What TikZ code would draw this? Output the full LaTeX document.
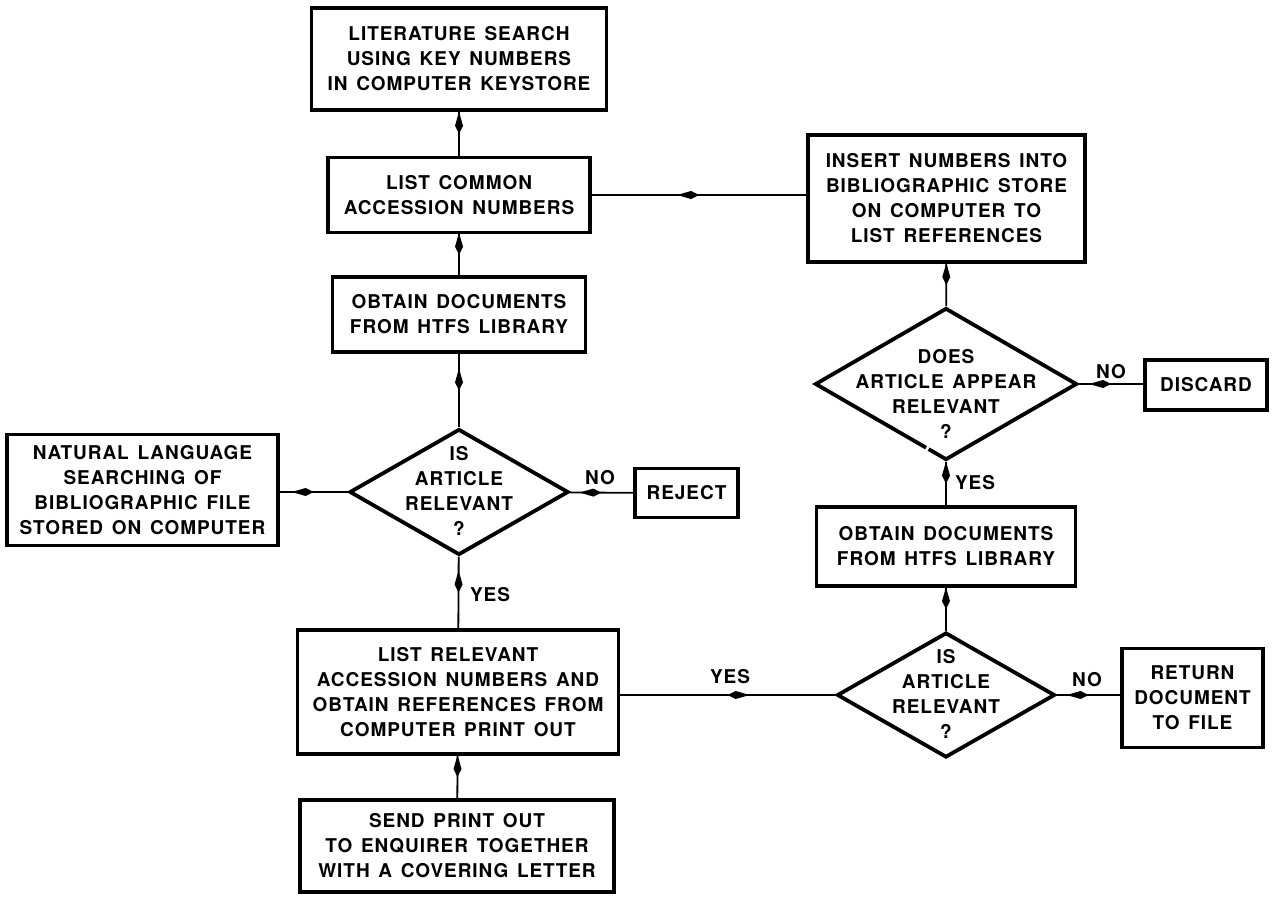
\documentclass[tikz,border=0pt]{standalone}
\usepackage{fontspec}
\setmainfont{TeX Gyre Heros}[LetterSpace=5,WordSpace=1.4]
\usetikzlibrary{shapes.geometric,decorations.markings,arrows.meta}
\newcommand\lettering{\fontsize{19}{25}\selectfont\bfseries}
\tikzset{
  box/.style={draw,line width=3.6pt,rectangle,inner sep=0pt,align=center,font=\lettering},
  dia/.style={draw,line width=3.8pt,diamond,inner sep=0pt},
  diatext/.style={align=center,font=\lettering,inner sep=0pt},
  lab/.style={font=\lettering,inner sep=0pt},
  flow/.style={line width=1.8pt,postaction={decorate},
    decoration={markings,mark=at position 0.5 with
      {\arrow{Kite[length=22pt,width=8pt,inset=14pt]}}}},
}
\begin{document}
\begin{tikzpicture}[x=1pt,y=-1pt]
\useasboundingbox (0,0) rectangle (1277,897);

% left column
\node[box,minimum width=295,minimum height=102] (b1) at (459,59)
  {LITERATURE SEARCH\\USING KEY NUMBERS\\IN COMPUTER KEYSTORE};
\node[box,minimum width=262,minimum height=75] (b2) at (459,195)
  {LIST COMMON\\ACCESSION NUMBERS};
\node[box,minimum width=253,minimum height=75] (b3) at (459,314.5)
  {OBTAIN DOCUMENTS\\FROM HTFS LIBRARY};
\node[dia,minimum width=219,minimum height=126] (d1) at (459,492) {};
\node[diatext] (d1t) at (459,491) {IS\\ARTICLE\\RELEVANT\\?};
\node[box,minimum width=271,minimum height=111] (nat) at (142.5,490)
  {NATURAL LANGUAGE\\SEARCHING OF\\BIBLIOGRAPHIC FILE\\STORED ON COMPUTER};
\node[box,minimum width=103,minimum height=49] (rej) at (686.5,493) {REJECT};
\node[box,minimum width=321,minimum height=124] (list) at (458,692)
  {LIST RELEVANT\\ACCESSION NUMBERS AND\\OBTAIN REFERENCES FROM\\COMPUTER PRINT OUT};
\node[box,minimum width=314,minimum height=92] (send) at (457,846)
  {SEND PRINT OUT\\TO ENQUIRER TOGETHER\\WITH A COVERING LETTER};

% right column
\node[box,minimum width=277,minimum height=127] (ins) at (946.5,198.5)
  {INSERT NUMBERS INTO\\BIBLIOGRAPHIC STORE\\ON COMPUTER TO\\LIST REFERENCES};
\node[dia,minimum width=262,minimum height=152] (d2) at (946,384) {};
\node[diatext] (d2t) at (946,394) {DOES\\ARTICLE APPEAR\\RELEVANT\\?};
\node[box,minimum width=122,minimum height=50] (disc) at (1206,385) {DISCARD};
\node[box,minimum width=259,minimum height=79] (ob2) at (946,546.5)
  {OBTAIN DOCUMENTS\\FROM HTFS LIBRARY};
\node[dia,minimum width=218,minimum height=125] (d3) at (946,695) {};
\node[diatext] (d3t) at (946,693.5) {IS\\ARTICLE\\RELEVANT\\?};
\node[box,minimum width=141,minimum height=99] (ret) at (1192.5,698)
  {RETURN\\DOCUMENT\\TO FILE};

% small break in the lower left edge of the second decision
\draw[white,line width=2.6pt] (924.5,453.3) -- (929.5,444.7);

% connectors
\draw[flow] (b1) -- (b2);
\draw[flow] (b2) -- (b3);
\draw[flow] (b3) -- (d1);
\draw[flow] (nat.east |- d1.west) -- (d1.west);
\draw[flow] (d1) -- (rej);
\draw[flow] (d1) -- (list);
\draw[flow] (list) -- (send);
\draw[flow] (b2.east) -- (ins.west |- b2.east);
\draw[flow] (ins) -- (d2);
\draw[flow] (d2.east) -- (disc.west |- d2.east);
\draw[flow] (d2) -- (ob2);
\draw[flow] (ob2) -- (d3);
\draw[flow] (d3.east) -- (ret.west |- d3.east);
\draw[flow] (d3.west) -- (list.east |- d3.west);

% branch labels
\node[lab] (no1) at (600,478) {NO};
\node[lab] (yes1) at (490,595) {YES};
\node[lab] (no2) at (1111,372) {NO};
\node[lab] (yes2) at (975,483) {YES};
\node[lab] (yes3) at (730,677) {YES};
\node[lab] (no3) at (1087,680) {NO};
\end{tikzpicture}
\end{document}
